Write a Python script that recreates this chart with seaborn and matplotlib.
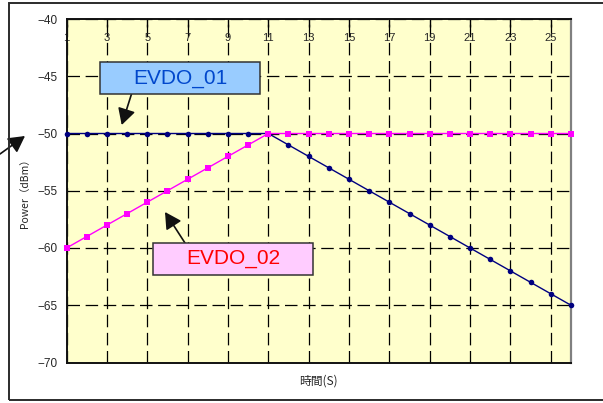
import matplotlib
matplotlib.use("Agg")
import matplotlib.pyplot as plt
from matplotlib.patches import Rectangle
import seaborn as sns
import pandas as pd

# Time axis (seconds) and the two EVDO carrier power traces (dBm)
time_s = [1, 2, 3, 4, 5, 6, 7, 8, 9, 10, 11, 12, 13,
          14, 15, 16, 17, 18, 19, 20, 21, 22, 23, 24, 25, 26]
evdo_01 = [-50, -50, -50, -50, -50, -50, -50, -50, -50, -50, -50, -51, -52,
           -53, -54, -55, -56, -57, -58, -59, -60, -61, -62, -63, -64, -65]
evdo_02 = [-60, -59, -58, -57, -56, -55, -54, -53, -52, -51, -50, -50, -50,
           -50, -50, -50, -50, -50, -50, -50, -50, -50, -50, -50, -50, -50]
x_ticks = [1, 3, 5, 7, 9, 11, 13, 15, 17, 19, 21, 23, 25]
y_ticks = [-70, -65, -60, -55, -50, -45, -40]
series_names = ["EVDO_01", "EVDO_02"]
x_title = "時間(S)"
y_title = "Power（dBm）"

sns.set_style("white")
plt.rcParams["font.family"] = ["Liberation Sans", "DejaVu Sans"]
plt.rcParams["axes.unicode_minus"] = True

df = pd.DataFrame({"time": time_s, "EVDO_01": evdo_01, "EVDO_02": evdo_02})

W, H = 603, 403
fig = plt.figure(figsize=(W / 100, H / 100), dpi=100)
fig.patch.set_facecolor("white")

# plot area placed in pixel terms
left, right, top, bottom = 66.5, 571, 19, 362.5
ax = fig.add_axes([left / W, 1 - bottom / H, (right - left) / W, (bottom - top) / H])
ax.set_facecolor("#FFFFCC")

sns.lineplot(data=df, x="time", y="EVDO_01", ax=ax, color="#000080", lw=1.0,
             marker="o", markersize=4, markeredgewidth=0, clip_on=False, zorder=3)
sns.lineplot(data=df, x="time", y="EVDO_02", ax=ax, color="#FF00FF", lw=1.0,
             marker="s", markersize=5, markeredgewidth=0, clip_on=False, zorder=4)

ax.set_xlim(1, 26)
ax.set_ylim(-70, -40)
ax.set_xticks(x_ticks)
ax.set_xticklabels([str(t) for t in x_ticks])
ax.set_yticks(y_ticks)
ax.set_yticklabels([f"\u2212{abs(v)}" for v in y_ticks])

ax.tick_params(axis="x", top=True, bottom=False, labeltop=True, labelbottom=False,
               direction="in", length=6, width=1, color="black", pad=-17.5,
               labelsize=8)
ax.tick_params(axis="y", left=False, length=0, pad=6.5, labelsize=8.5)

ax.grid(True, color="black", lw=0.9, linestyle=(0, (10, 4.5)))
ax.set_axisbelow(True)

for side in ["left", "top", "bottom"]:
    ax.spines[side].set_color("#111111")
    ax.spines[side].set_linewidth(1.4)
ax.spines["right"].set_color("#808080")
ax.spines["right"].set_linewidth(1.6)

ax.set_xlabel(x_title, family=["Noto Sans CJK JP", "DejaVu Sans"], fontsize=8.5)
ax.xaxis.set_label_position("bottom")
ax.xaxis.set_label_coords(0.5, -0.035)
ax.set_ylabel(y_title, family=["Noto Sans CJK JP", "DejaVu Sans"], fontsize=7.5)
ax.yaxis.set_label_coords(-0.072, 0.5)

# outer chart frame (continues past the right edge)
fig.add_artist(Rectangle((9 / W, 1 - 400 / H), 1.2, (400 - 2.5) / H,
                         transform=fig.transFigure, fill=False,
                         edgecolor="#2b2b2b", lw=1.4, clip_on=False))

# callout boxes with labels
def callout(x0, y0, x1, y1, text, face, txt_color):
    fig.add_artist(Rectangle((x0 / W, 1 - y1 / H), (x1 - x0) / W, (y1 - y0) / H,
                             transform=fig.transFigure, facecolor=face,
                             edgecolor="#333333", lw=1.1, zorder=5))
    fig.text((x0 + x1) / 2 / W, 1 - (y0 + y1) / 2 / H, text, color=txt_color,
             fontsize=15, ha="center", va="center", zorder=6)

callout(100, 62, 260, 94, series_names[0], "#99CCFF", "#0047CC")
callout(153, 243, 313, 275, series_names[1], "#FFCCFF", "#FF0000")

arrow_kw = dict(arrowstyle="-|>,head_length=0.55,head_width=0.3",
                mutation_scale=18, lw=1.2, color="#111111",
                shrinkA=0, shrinkB=0)

def pointer(tail, tip):
    ax.annotate("", xy=(tip[0], H - tip[1]), xytext=(tail[0], H - tail[1]),
                xycoords="figure pixels", textcoords="figure pixels",
                arrowprops=arrow_kw, annotation_clip=False, zorder=6)

pointer((131.5, 94), (121.7, 125))
pointer((185, 243), (165, 212))
pointer((0, 154), (25, 136))

fig.savefig("out.png", dpi=100, facecolor="white")
